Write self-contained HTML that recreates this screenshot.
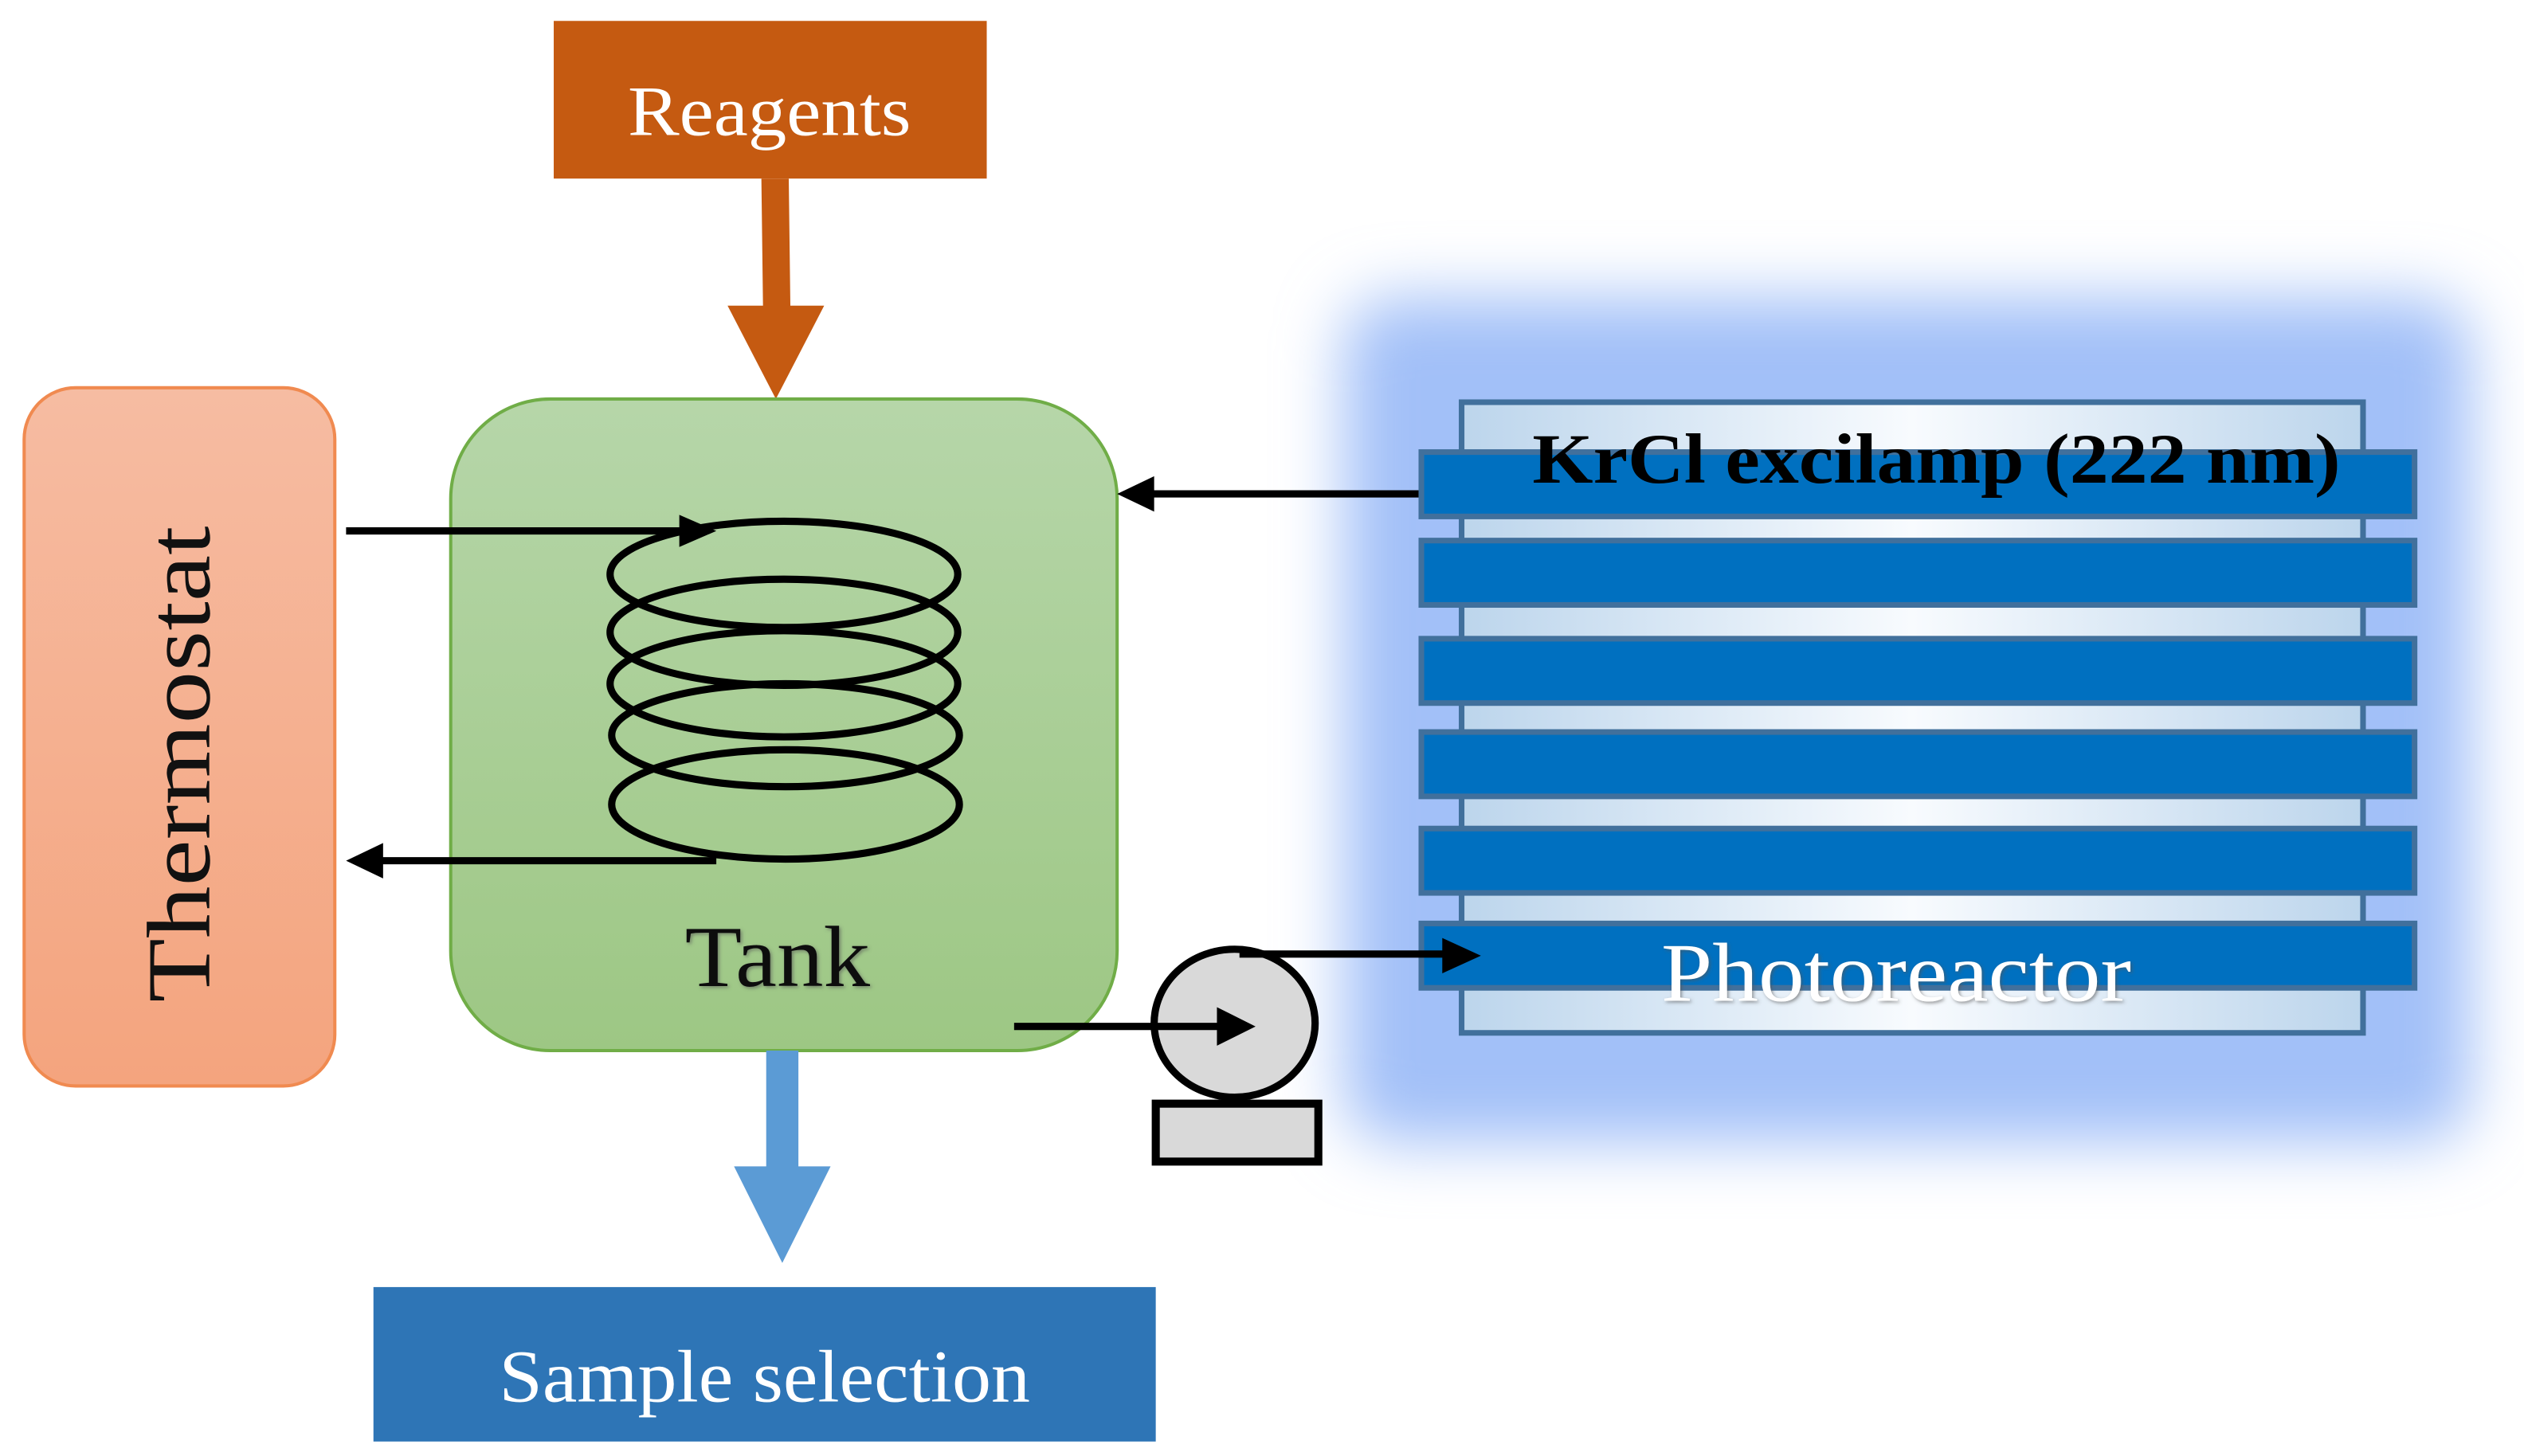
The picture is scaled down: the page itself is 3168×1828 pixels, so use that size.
<!DOCTYPE html>
<html><head><meta charset="utf-8"><style>
html,body{margin:0;padding:0;background:#fff;}
svg{display:block;}
text{font-family:"Liberation Serif",serif;}
</style></head><body>
<svg width="3168" height="1828" viewBox="0 0 1568 905" preserveAspectRatio="none" xmlns="http://www.w3.org/2000/svg">
<defs>
<filter id="blur" x="-20%" y="-20%" width="140%" height="140%"><feGaussianBlur stdDeviation="20"/></filter>
<linearGradient id="thermo" x1="0" y1="0" x2="0" y2="1"><stop offset="0" stop-color="#F6BCA2"/><stop offset="1" stop-color="#F4A47E"/></linearGradient>
<linearGradient id="tank" x1="0" y1="0" x2="0" y2="1"><stop offset="0" stop-color="#B6D6A9"/><stop offset="1" stop-color="#9DC784"/></linearGradient>
<linearGradient id="panel" x1="0" y1="0" x2="1" y2="0"><stop offset="0" stop-color="#BCD5EC"/><stop offset="0.5" stop-color="#F8FBFE"/><stop offset="1" stop-color="#BCD5EC"/></linearGradient>
<filter id="ts"><feDropShadow dx="1" dy="1" stdDeviation="1" flood-color="#555" flood-opacity="0.6"/></filter>
</defs>
<!-- glow -->
<rect x="835" y="185" width="700" height="525" rx="30" fill="#A2C0F8" filter="url(#blur)"/>
<!-- Reagents -->
<rect x="344" y="13" width="269" height="98" fill="#C55A11"/>
<text x="478" y="84" font-size="44" fill="#fff" text-anchor="middle" textLength="176" lengthAdjust="spacingAndGlyphs">Reagents</text>
<polygon points="473,111 490,111 491,190 512,190 482,248 452,190 474,190" fill="#C55A11"/>
<!-- Thermostat -->
<rect x="15" y="241" width="193" height="434" rx="32" fill="url(#thermo)" stroke="#F08A50" stroke-width="2"/>
<text transform="translate(130,475) rotate(-90)" font-size="56" fill="#111" text-anchor="middle" textLength="296" lengthAdjust="spacingAndGlyphs">Thermostat</text>
<!-- Tank -->
<rect x="280" y="248" width="414" height="405" rx="62" fill="url(#tank)" stroke="#70AD47" stroke-width="2"/>
<text x="483" y="613" font-size="54" fill="#111" text-anchor="middle" textLength="115" lengthAdjust="spacingAndGlyphs" filter="url(#ts)">Tank</text>
<!-- coil -->
<g fill="none" stroke="#000" stroke-width="4.5">
<ellipse cx="487" cy="357" rx="108" ry="33"/>
<ellipse cx="487" cy="393" rx="108" ry="33"/>
<ellipse cx="487" cy="425" rx="108" ry="33"/>
<ellipse cx="488" cy="457" rx="108" ry="32"/>
<ellipse cx="488" cy="500" rx="108" ry="34"/>
</g>
<!-- thermostat arrows -->
<line x1="215" y1="330" x2="425" y2="330" stroke="#000" stroke-width="4.5"/>
<polygon points="445,330 422,320 422,340" fill="#000"/>
<line x1="445" y1="535" x2="235" y2="535" stroke="#000" stroke-width="4.5"/>
<polygon points="215,535 238,524 238,546" fill="#000"/>
<!-- lamp arrow to tank -->
<line x1="905" y1="307" x2="712" y2="307" stroke="#000" stroke-width="4.5"/>
<polygon points="694,307 717,296 717,318" fill="#000"/>
<!-- blue arrow -->
<polygon points="476,653 496,653 496,725 516,725 486,785 456,725 476,725" fill="#5B9BD5"/>
<!-- Sample selection -->
<rect x="232" y="800" width="486" height="96" fill="#2E75B6"/>
<text x="475" y="871" font-size="46" fill="#fff" text-anchor="middle" textLength="330" lengthAdjust="spacingAndGlyphs">Sample selection</text>
<!-- Photoreactor panel -->
<rect x="908" y="250" width="560" height="392" fill="url(#panel)" stroke="#41709C" stroke-width="3.5"/>
<g fill="#0070C0" stroke="#41709C" stroke-width="3.5">
<rect x="883" y="281" width="617" height="40"/>
<rect x="883" y="336" width="617" height="40"/>
<rect x="883" y="397" width="617" height="40"/>
<rect x="883" y="455" width="617" height="40"/>
<rect x="883" y="515" width="617" height="40"/>
<rect x="883" y="574" width="617" height="40"/>
</g>
<text x="1203" y="300" font-size="44" font-weight="bold" fill="#000" text-anchor="middle" textLength="502" lengthAdjust="spacingAndGlyphs">KrCl excilamp (222 nm)</text>
<text x="1178" y="622" font-size="52" fill="#fff" text-anchor="middle" textLength="292" lengthAdjust="spacingAndGlyphs" filter="url(#ts)">Photoreactor</text>
<!-- pump -->
<ellipse cx="767" cy="636" rx="50" ry="46" fill="#D9D9D9" stroke="#000" stroke-width="4.5"/>
<rect x="718" y="686" width="101" height="36" fill="#D9D9D9" stroke="#000" stroke-width="5"/>
<line x1="630" y1="638" x2="758" y2="638" stroke="#000" stroke-width="4.5"/>
<polygon points="780,638 756,626 756,650" fill="#000"/>
<line x1="770" y1="593" x2="898" y2="593" stroke="#000" stroke-width="4.5"/>
<polygon points="920,594 896,583 896,605" fill="#000"/>
</svg>
</body></html>
